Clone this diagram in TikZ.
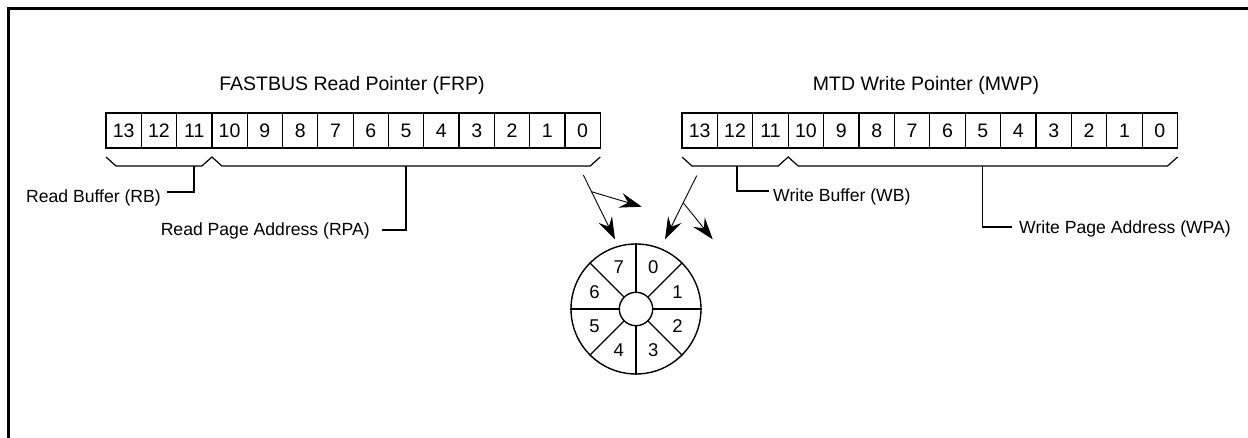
\documentclass[tikz,border=0pt]{standalone}
\usepackage{fontspec}
\setmainfont{Liberation Sans}
\usetikzlibrary{arrows.meta,calc}
\begin{document}
\begin{tikzpicture}[x=1pt,y=-1pt,
  cell/.style={draw, line width=1.2pt, minimum width=35.35pt, minimum height=35pt,
    inner sep=0pt, outer sep=0pt, anchor=north west, font=\fontsize{19.5}{19.5}\selectfont},
  titletext/.style={inner sep=0pt, font=\fontsize{19.5}{22}\selectfont},
  lbl/.style={inner sep=0pt, font=\fontsize{17.6}{20}\selectfont},
  bracepath/.style={line width=1.2pt},
  lead/.style={line width=1.2pt},
  ptr/.style={line width=0.9pt, -{Stealth[length=22pt,width=15pt,inset=8pt]}},
  wheelline/.style={line width=1.4pt},
  wnum/.style={inner sep=0pt, font=\fontsize{18.5}{18.5}\selectfont}
]
\useasboundingbox (0,0) rectangle (1248,438);
% frame
\draw[line width=2.5pt] (8.3,438) -- (8.3,8.3) -- (1248,8.3);

% titles
\node[titletext, anchor=base] (frp) at (352,90.7) {FASTBUS Read Pointer (FRP)};
\node[titletext, anchor=base] (mwp) at (926,90.7) {MTD Write Pointer (MWP)};

% registers
\foreach \i in {0,...,13} {
  \node[cell] (l\i) at ({106+(13-\i)*35.3},113) {\i};
  \node[cell] (r\i) at ({682+(13-\i)*35.4},113) {\i};
}

% braces
\draw[bracepath] ($(l13.south west)+(0,9)$) -- ++(10,9) -- ($(l10.south west)+(-10,18)$)
  -- ($(l10.south west)+(0,9)$) -- ++(10,9) -- ($(l0.south east)+(-10,18)$) -- ($(l0.south east)+(0,9)$);
\draw[bracepath] ($(r13.south west)+(0,9)$) -- ++(10,9) -- ($(r10.south west)+(-10,18)$)
  -- ($(r10.south west)+(0,9)$) -- ++(10,9) -- ($(r0.south east)+(-10,18)$) -- ($(r0.south east)+(0,9)$);

% leaders and labels
\coordinate (rbtop) at (194,166);   \coordinate (rbend) at (167,192);
\coordinate (rpatop) at (406,166);  \coordinate (rpaend) at (382,230);
\coordinate (wbtop) at (737,166);   \coordinate (wbend) at (769,191);
\coordinate (wpatop) at (982.5,166); \coordinate (wpaend) at (1012,227);
\draw[lead] (rbtop) |- (rbend);
\draw[lead] (rpatop) |- (rpaend);
\draw[lead] (wbtop) |- (wbend);
\draw[lead] (wpatop) |- (wpaend);
\node[lbl, anchor=base east] (rb) at (161,203) {Read Buffer (RB)};
\node[lbl, anchor=base east] (rpa) at (370,236) {Read Page Address (RPA)};
\node[lbl, anchor=base west] (wb) at (773,202) {Write Buffer (WB)};
\node[lbl, anchor=base west] (wpa) at (1019,234) {Write Page Address (WPA)};

% wheel
\node[draw, circle, wheelline, minimum size=130pt, inner sep=0pt] (wheel) at (636,309) {};
\node[draw, circle, wheelline, minimum size=33.4pt, inner sep=0pt] (hub) at (636,309) {};
\foreach \a in {0,45,...,315} \draw[wheelline] (hub.\a) -- (wheel.\a);
\foreach \n/\a in {0/67.5,1/22.5,2/-22.5,3/-67.5,4/-112.5,5/-157.5,6/157.5,7/112.5}
  \node[wnum] (w\n) at ($(wheel.center)+(-\a:45)$) {\n};

% pointer arrows
\coordinate (ra) at (583.3,175);   \coordinate (rat) at (615,239.3);
\coordinate (rb2) at (591.5,191.7); \coordinate (rbt) at (641.7,206.7);
\coordinate (wa) at (696.7,175.7); \coordinate (wat) at (665,239.3);
\coordinate (wb2) at (683.2,202.7); \coordinate (wbt) at (712.7,239.3);
\draw[ptr] (ra) -- (rat);
\draw[ptr] (rb2) -- (rbt);
\draw[ptr] (wa) -- (wat);
\draw[ptr] (wb2) -- (wbt);
\end{tikzpicture}
\end{document}
